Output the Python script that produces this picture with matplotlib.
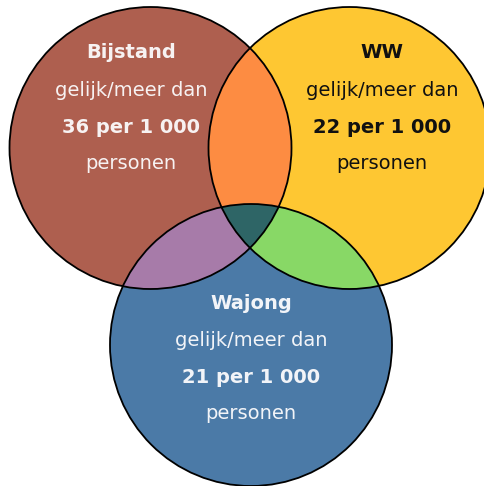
import numpy as np
import matplotlib
matplotlib.use('Agg')
import matplotlib.pyplot as plt
from matplotlib.patches import Circle, Polygon

# Venn data
groups = ['Bijstand', 'WW', 'Wajong']
values = [36, 22, 21]
circle_colors = ['#ae5f4f', '#fec732', '#4b7aa7']
text_colors = ['#f7f2f2', '#111111', '#f2f4f8']
ab_color = '#fd8c42'   # Bijstand & WW
ac_color = '#a77ba9'   # Bijstand & Wajong
bc_color = '#88d866'   # WW & Wajong
abc_color = '#2e6566'  # all three

# layout in pixel coordinates
centers = [(150.5, 148), (349.5, 148), (251, 345)]
r = 141

fig = plt.figure(figsize=(4.84, 4.86), dpi=100)
ax = fig.add_axes([0, 0, 1, 1])
ax.set_xlim(0, 484)
ax.set_ylim(486, 0)
ax.axis('off')


def region(idx):
    # convex intersection of the circles in idx, as a polygon
    t = np.linspace(0, 2 * np.pi, 3000, endpoint=False)
    pts = []
    for i in idx:
        cx, cy = centers[i]
        p = np.column_stack([cx + r * np.cos(t), cy + r * np.sin(t)])
        keep = np.ones(len(p), bool)
        for j in idx:
            if j == i:
                continue
            d = np.hypot(p[:, 0] - centers[j][0], p[:, 1] - centers[j][1])
            keep &= d <= r
        pts.append(p[keep])
    pts = np.vstack(pts)
    c = pts.mean(axis=0)
    order = np.argsort(np.arctan2(pts[:, 1] - c[1], pts[:, 0] - c[0]))
    return pts[order]


for (cx, cy), col in zip(centers, circle_colors):
    ax.add_patch(Circle((cx, cy), r, facecolor=col, edgecolor='none'))

for idx, col in [((0, 1), ab_color), ((0, 2), ac_color), ((1, 2), bc_color),
                 ((0, 1, 2), abc_color)]:
    ax.add_patch(Polygon(region(idx), closed=True, facecolor=col, edgecolor='none'))

for cx, cy in centers:
    ax.add_patch(Circle((cx, cy), r, facecolor='none', edgecolor='black', lw=1.3))

# label blocks sit off-centre in the outer circles
text_pos = [(131, 53), (382, 53), (251, 303)]
fs = 14
for name, val, tc, (x, y) in zip(groups, values, text_colors, text_pos):
    ax.text(x, y, name, ha='center', va='center', fontsize=fs, fontweight='bold', color=tc)
    ax.text(x, y + 37, 'gelijk/meer dan', ha='center', va='center', fontsize=fs, color=tc)
    ax.text(x, y + 74, f'{val} per 1 000', ha='center', va='center', fontsize=fs,
            fontweight='bold', color=tc)
    ax.text(x, y + 110.5, 'personen', ha='center', va='center', fontsize=fs, color=tc)

fig.savefig('out.png', dpi=100)
